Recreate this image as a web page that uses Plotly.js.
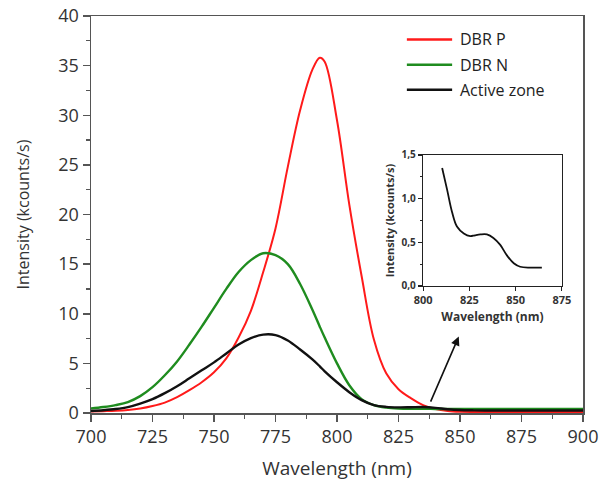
<!DOCTYPE html>
<html>
<head>
<meta charset="utf-8">
<script src="https://cdn.plot.ly/plotly-3.0.1.min.js"></script>
<style>html,body{margin:0;padding:0;background:#fff;}#chart{width:600px;height:489px;}</style>
</head>
<body>
<div id="chart"></div>
<script>
// Main spectra (wavelength in nm, intensity in kcounts/s)
const wavelength = [700,705,710,715,720,725,730,735,740,745,750,755,760,765,770,775,780,785,790,793,795,800,805,810,815,820,825,830,835,840,845,850,855,860,865,870,875,880,885,890,895,900];
const dbrP = [0.15,0.18,0.22,0.3,0.45,0.7,1.05,1.6,2.3,3.1,4.1,5.5,7.6,10.3,14.2,18.6,24.8,30.5,34.6,35.8,35.4,29.5,21.0,13.8,7.4,4.0,2.4,1.5,0.8,0.4,0.2,0.12,0.1,0.1,0.1,0.1,0.1,0.1,0.1,0.1,0.1,0.1];
const dbrN = [0.45,0.6,0.8,1.1,1.7,2.6,3.8,5.2,6.9,8.7,10.6,12.5,14.2,15.4,16.1,15.9,15.0,13.0,10.4,8.7,7.6,5.0,2.8,1.4,0.8,0.55,0.45,0.42,0.42,0.41,0.4,0.4,0.4,0.4,0.4,0.4,0.4,0.4,0.4,0.4,0.4,0.4];
const activeZone = [0.2,0.28,0.4,0.6,0.95,1.4,2.0,2.7,3.5,4.3,5.1,6.0,6.9,7.55,7.9,7.85,7.3,6.4,5.4,4.7,4.2,3.1,2.1,1.3,0.8,0.62,0.57,0.58,0.6,0.52,0.38,0.3,0.27,0.25,0.25,0.25,0.25,0.25,0.25,0.25,0.25,0.25];

// Inset (active zone tail)
const insetWavelength = [810.3,813,815.6,818.3,822,825.5,828,831,834.5,838,841.7,845.3,849,852.5,858,864.2];
const insetIntensity = [1.35,1.10,0.85,0.68,0.60,0.57,0.58,0.59,0.59,0.55,0.47,0.35,0.26,0.22,0.21,0.21];

const seriesNames = ['DBR P','DBR N','Active zone'];
const seriesColors = ['#ff1a1a','#1f8c1f','#111111'];

const font = 'Open Sans, Lato, sans-serif';
const axColor = '#555555';

const traces = [
  {x: wavelength, y: dbrP, name: seriesNames[0], line:{color:seriesColors[0], width:2, shape:'spline'}},
  {x: wavelength, y: dbrN, name: seriesNames[1], line:{color:seriesColors[1], width:2.4, shape:'spline'}},
  {x: wavelength, y: activeZone, name: seriesNames[2], line:{color:seriesColors[2], width:2.4, shape:'spline'}},
  {x: insetWavelength, y: insetIntensity, xaxis:'x2', yaxis:'y2', name:'inset', line:{color:'#111', width:1.8, shape:'spline'}}
].map(t => Object.assign({type:'scatter', mode:'lines', showlegend:false}, t));

// Legend drawn as shapes + text (positions in paper coords)
const legendY = [0.941, 0.877, 0.814];
const shapes = seriesNames.map((n, i) => ({
  type:'line', xref:'paper', yref:'paper', x0:0.642, x1:0.734, y0:legendY[i], y1:legendY[i],
  line:{color:seriesColors[i], width:2.5}
}));
const legendText = seriesNames.map((n, i) => ({
  xref:'paper', yref:'paper', x:0.746, y:legendY[i], xanchor:'left', yanchor:'middle',
  text:n, showarrow:false, font:{size:16, color:'#222', family:font}
}));

const layout = {
  width: 600, height: 489,
  margin: {l: 91, r: 17, t: 16, b: 76},
  paper_bgcolor: '#fff', plot_bgcolor: '#fff',
  separators: ',.',
  font: {family: font, color: '#333', size: 16},
  showlegend: false,
  xaxis: {
    range: [700, 900], tickvals: [700,725,750,775,800,825,850,875,900], ticks:'outside', ticklen:7, tickwidth:1.5, tickcolor:axColor,
    minor: {dtick: 12.5, ticks:'outside', ticklen:4, tickwidth:1.2, tickcolor:axColor},
    showline:true, linecolor:axColor, linewidth:1.5, mirror:true, showgrid:false, zeroline:false,
    tickfont:{size:18, color:'#333'},
    title: {text:'Wavelength (nm)', font:{size:19, color:'#333'}, standoff: 14}
  },
  yaxis: {
    range: [0, 40], dtick: 5, ticks:'outside', ticklen:7, tickwidth:1.5, tickcolor:axColor,
    minor: {dtick: 2.5, ticks:'outside', ticklen:4, tickwidth:1.2, tickcolor:axColor},
    showline:true, linecolor:axColor, linewidth:1.5, mirror:true, showgrid:false, zeroline:false,
    tickfont:{size:18, color:'#333'},
    title: {text:'Intensity (kcounts/s)', font:{size:16, color:'#333'}, standoff: 24}
  },
  xaxis2: {
    domain: [0.675, 0.957], anchor:'y2', range:[800, 875], tickvals:[800,825,850,875], ticks:'outside', ticklen:4, tickwidth:1.2, tickcolor:'#222',
    showline:true, linecolor:'#222', linewidth:1.3, mirror:true, showgrid:false, zeroline:false,
    tickfont:{size:11, color:'#333', weight:'bold'},
    title: {text:'<b>Wavelength (nm)</b>', font:{size:12, color:'#333'}, standoff: 6}
  },
  yaxis2: {
    domain: [0.32, 0.65], anchor:'x2', range:[0, 1.5], tickvals:[0,0.5,1,1.5], tickformat:'.1f', ticks:'outside', ticklen:4, tickwidth:1.2, tickcolor:'#222',
    minor: {dtick: 0.25, ticks:'outside', ticklen:2, tickwidth:1, tickcolor:'#222'},
    showline:true, linecolor:'#222', linewidth:1.3, mirror:true, showgrid:false, zeroline:false,
    tickfont:{size:10, color:'#333', weight:'bold'},
    title: {text:'<b>Intensity (kcounts/s)</b>', font:{size:11, color:'#333'}, standoff: 4}
  },
  shapes: shapes,
  annotations: legendText.concat([{
    x: 849.5, y: 7.7, xref:'x', yref:'y', ax: 837.8, ay: 1.0, axref:'x', ayref:'y',
    showarrow:true, arrowhead:2, arrowsize:1.1, arrowwidth:1.6, arrowcolor:'#111', text:''
  }])
};

Plotly.newPlot('chart', traces, layout, {displayModeBar:false, staticPlot:true});
</script>
</body>
</html>
